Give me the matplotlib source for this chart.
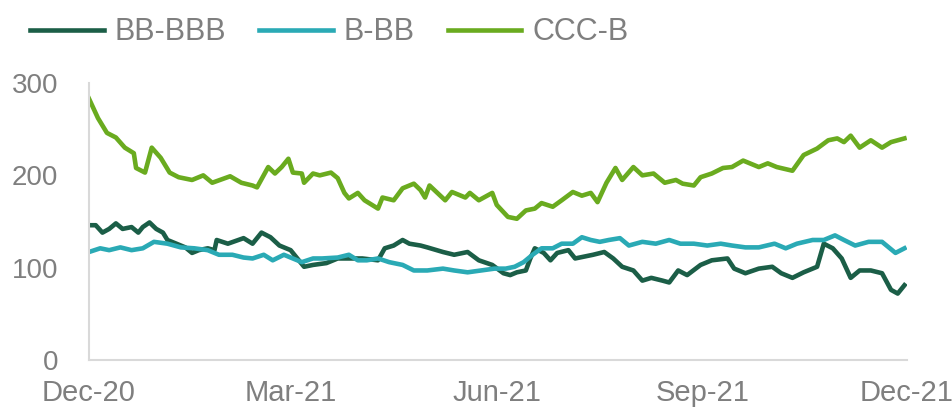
import pandas as pd
import matplotlib.pyplot as plt
import matplotlib.dates as mdates

start = pd.Timestamp('2020-12-01')

# day offsets from start and spread values
bb_bbb_days = [0, 3, 6, 9, 12, 15, 19, 22, 24, 27, 30, 33, 35, 39, 43, 46, 49, 53, 56, 57,
               62, 69, 73, 77, 81, 85, 90, 93, 96, 100, 106, 111, 116, 122, 129, 132, 136,
               140, 143, 148, 151, 158, 163, 169, 174, 180, 185, 188, 191, 195, 197, 199,
               203, 206, 209, 214, 217, 219, 225, 230, 234, 238, 243, 247, 251, 256, 259,
               263, 267, 273, 278, 285, 288, 293, 299, 305, 309, 314, 319, 325, 328, 332,
               336, 340, 344, 349, 354, 358, 361, 364]
bb_bbb = [146, 146, 138, 142, 148, 142, 144, 138, 144, 149, 142, 138, 130, 126, 122, 116,
          119, 121, 119, 130, 126, 132, 126, 138, 133, 124, 119, 110, 101, 103, 105, 110,
          110, 110, 108, 121, 124, 130, 126, 124, 122, 117, 114, 117, 108, 103, 94, 92, 95,
          97, 110, 121, 116, 108, 116, 119, 110, 111, 114, 117, 110, 101, 97, 86, 89, 86,
          84, 97, 92, 103, 108, 110, 99, 94, 99, 101, 94, 89, 95, 101, 126, 121, 110, 89,
          97, 97, 94, 76, 72, 81]

b_bb_days = [0, 5, 9, 14, 19, 24, 29, 35, 41, 47, 53, 58, 64, 69, 73, 78, 82, 87, 91, 95,
             100, 104, 111, 116, 120, 124, 129, 134, 140, 145, 151, 158, 163, 169, 175,
             181, 186, 190, 194, 198, 202, 207, 211, 216, 220, 224, 228, 232, 237, 241,
             247, 253, 259, 264, 270, 276, 282, 287, 293, 299, 306, 311, 316, 323, 328,
             333, 337, 342, 348, 354, 360, 364]
b_bb = [117, 121, 119, 122, 119, 121, 128, 126, 122, 121, 119, 114, 114, 111, 110, 114,
        108, 114, 110, 106, 110, 110, 111, 114, 108, 108, 110, 106, 103, 97, 97, 99, 97, 95,
        97, 99, 99, 101, 106, 114, 121, 121, 126, 126, 133, 130, 128, 130, 132, 124, 128,
        126, 130, 126, 126, 124, 126, 124, 122, 122, 126, 121, 126, 130, 130, 135, 130,
        124, 128, 128, 116, 121]

ccc_b_days = [0, 4, 8, 12, 16, 20, 21, 25, 28, 32, 36, 40, 46, 51, 55, 63, 68, 73, 75, 80,
              83, 86, 89, 91, 95, 96, 100, 103, 108, 111, 114, 116, 120, 123, 129, 131,
              136, 140, 145, 148, 150, 152, 159, 162, 168, 170, 174, 180, 182, 187, 191,
              195, 199, 202, 207, 211, 216, 220, 224, 227, 231, 235, 238, 243, 247, 252,
              257, 262, 265, 270, 273, 278, 283, 287, 292, 295, 299, 303, 307, 314, 319,
              325, 330, 334, 337, 340, 344, 349, 354, 358, 364]
ccc_b = [283, 262, 246, 241, 230, 224, 208, 203, 230, 219, 203, 198, 195, 200, 192, 199,
         192, 189, 187, 209, 202, 209, 218, 203, 202, 192, 202, 200, 203, 197, 181, 175,
         181, 173, 164, 176, 173, 186, 191, 184, 176, 189, 173, 182, 176, 181, 173, 181,
         168, 155, 153, 162, 164, 170, 166, 173, 182, 178, 181, 171, 192, 208, 195, 209,
         200, 202, 192, 195, 191, 189, 198, 202, 208, 209, 216, 213, 209, 213, 209, 205,
         222, 229, 238, 240, 236, 243, 230, 238, 230, 236, 240]

labels = ['BB-BBB', 'B-BB', 'CCC-B']
colors = ['#1b5e47', '#2aaab5', '#6aab1f']
tick_dates = ['2020-12-01', '2021-03-01', '2021-06-01', '2021-09-01', '2021-12-01']

plt.rcParams['font.family'] = ['Liberation Sans', 'DejaVu Sans']

fig = plt.figure(figsize=(9.53, 4.11), dpi=100)
ax = fig.add_axes([0.0934, 0.124, 0.858, 0.674])

series = [(bb_bbb_days, bb_bbb), (b_bb_days, b_bb), (ccc_b_days, ccc_b)]
for (days, vals), lab, col in zip(series, labels, colors):
    x = start + pd.to_timedelta(days, unit='D')
    ax.plot(x, vals, color=col, linewidth=3.3, label=lab, solid_joinstyle='round')

ax.set_ylim(0, 300)
ax.set_yticks([0, 100, 200, 300])
ax.set_xlim(start, pd.Timestamp('2021-12-01'))
ax.set_xticks(pd.to_datetime(tick_dates))
ax.xaxis.set_major_formatter(mdates.DateFormatter('%b-%y'))

for s in ['top', 'right']:
    ax.spines[s].set_visible(False)
for s in ['left', 'bottom']:
    ax.spines[s].set_color('#d9d9d9')
    ax.spines[s].set_linewidth(1.5)
ax.tick_params(length=0, labelsize=20, colors='#7f7f7f')
ax.tick_params(axis='x', labelsize=21, pad=14)
ax.tick_params(axis='y', pad=22)

fig.legend(loc='upper left', bbox_to_anchor=(0.003, 1.025), ncol=3, frameon=False,
           fontsize=22, handlelength=2.4, handletextpad=0.35, columnspacing=1.1,
           labelcolor='#7f7f7f')

fig.savefig('out.png', dpi=100)
